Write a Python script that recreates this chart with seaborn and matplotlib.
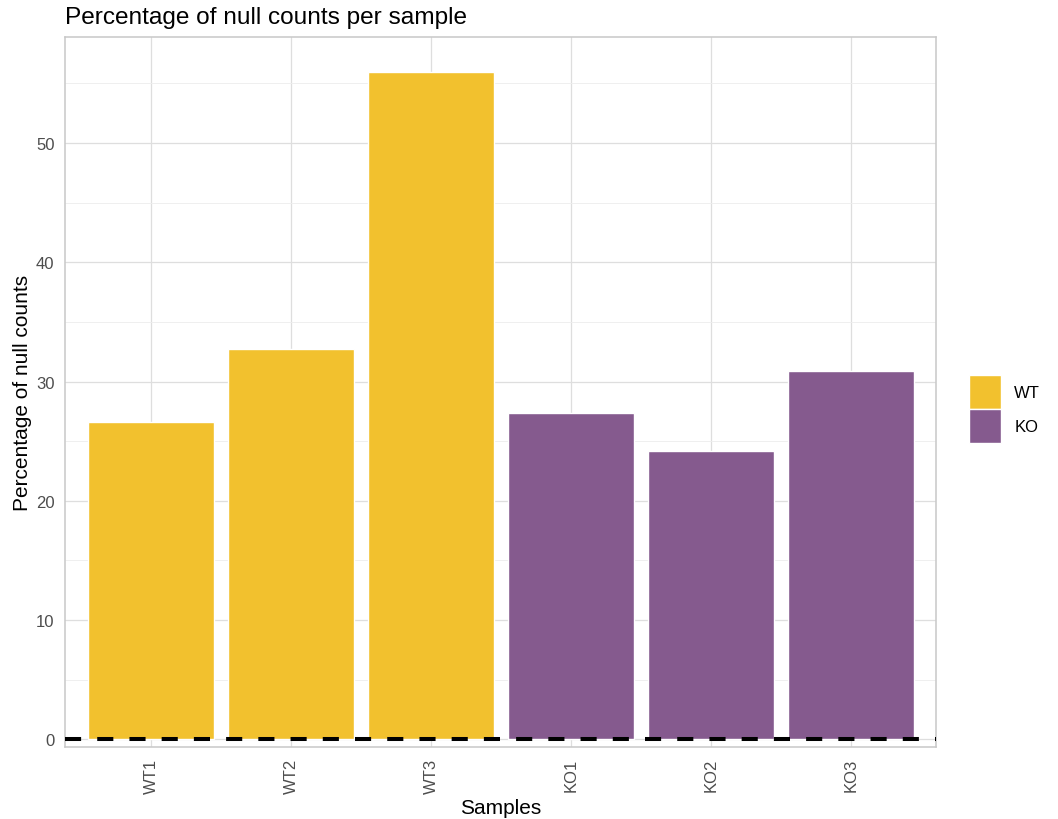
import pandas as pd
import numpy as np
import matplotlib
matplotlib.use("Agg")
import matplotlib.pyplot as plt
import seaborn as sns

# values
samples = ["WT1", "WT2", "WT3", "KO1", "KO2", "KO3"]
groups = ["WT", "WT", "WT", "KO", "KO", "KO"]
null_pct = [26.6, 32.7, 56.0, 27.4, 24.2, 30.9]
group_colors = {"WT": "#F2C12E", "KO": "#855A8E"}

df = pd.DataFrame({"sample": samples, "group": groups, "pct": null_pct})

sns.set_style("white")
plt.rcParams["font.family"] = ["Liberation Sans", "DejaVu Sans"]
plt.rcParams["text.color"] = "black"
plt.rcParams["axes.labelcolor"] = "black"

fig = plt.figure(figsize=(10.58, 8.2), dpi=100)
ax = fig.add_axes([0.0614, 0.0878, 0.8233, 0.8659])

sns.barplot(data=df, x="sample", y="pct", hue="group", order=samples,
            hue_order=["WT", "KO"], palette=group_colors, dodge=False,
            width=0.9, saturation=1, ax=ax, zorder=2)

# dashed reference line at zero
ax.axhline(0, color="black", lw=2.9, ls=(0, (4, 4)), zorder=3)

ax.set_xlim(-0.614, 5.607)
ax.set_ylim(-0.65, 58.9)
ax.set_yticks(np.arange(0, 60, 10))
ax.set_yticks(np.arange(5, 60, 10), minor=True)

# theme_light-like grid and border
ax.grid(True, which="major", color="#DEDEDE", lw=0.9, zorder=0)
ax.grid(True, which="minor", axis="y", color="#EDEDED", lw=0.6, zorder=0)
ax.set_axisbelow(True)
for side in ax.spines.values():
    side.set_visible(True)
    side.set_color("#C8C8C8")
    side.set_linewidth(1.1)

ax.tick_params(axis="both", which="major", length=4, color="#C8C8C8",
               labelsize=12, labelcolor="#4D4D4D", width=1)
ax.tick_params(axis="y", which="minor", length=0)
ax.tick_params(axis="x", labelrotation=90)

ax.set_xlabel("Samples", fontsize=15, labelpad=4)
ax.set_ylabel("Percentage of null counts", fontsize=15, labelpad=3)
ax.set_title("Percentage of null counts per sample", fontsize=17.6,
             loc="left", pad=10)

handles, labels = ax.get_legend_handles_labels()
ax.legend(handles, labels, loc="center left", bbox_to_anchor=(0.902, 0.5),
          bbox_transform=fig.transFigure, frameon=False, fontsize=12,
          handlelength=1.9, handleheight=2.7, labelspacing=0.05,
          handletextpad=0.8)

fig.savefig("out.png", dpi=100)
